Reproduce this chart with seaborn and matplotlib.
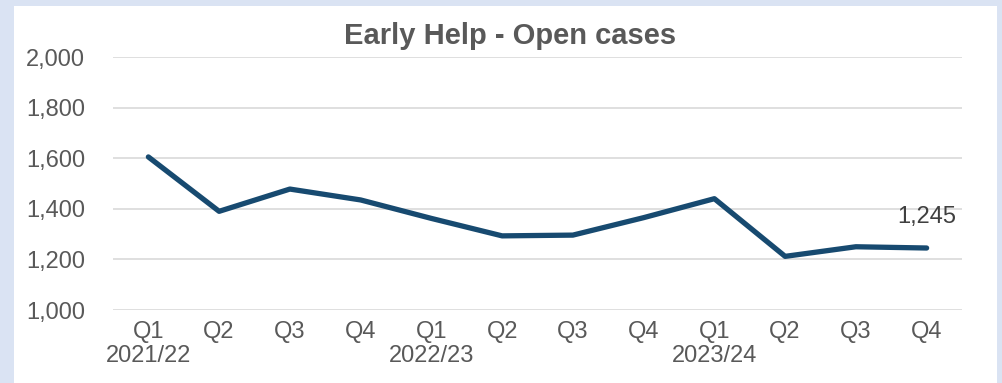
import matplotlib
matplotlib.use("Agg")
import matplotlib.pyplot as plt
import seaborn as sns
import pandas as pd
from matplotlib.patches import Rectangle
from matplotlib.ticker import FuncFormatter

quarters = ["Q1", "Q2", "Q3", "Q4", "Q1", "Q2", "Q3", "Q4", "Q1", "Q2", "Q3", "Q4"]
years = ["2021/22", "", "", "", "2022/23", "", "", "", "2023/24", "", "", ""]
open_cases = [1605, 1390, 1478, 1435, 1362, 1293, 1296, 1365, 1440, 1212, 1250, 1245]

sns.set_theme(style="white")
plt.rcParams["font.family"] = ["Liberation Sans", "DejaVu Sans"]

labels = [q if not y else f"{q}\n{y}" for q, y in zip(quarters, years)]
df = pd.DataFrame({"pos": range(len(open_cases)), "cases": open_cases})

fig = plt.figure(figsize=(10.02, 3.83), dpi=100)
fig.patch.set_facecolor("#dae3f3")
fig.patches.append(Rectangle((14 / 1002, 0), (997 - 14) / 1002, (383 - 6) / 383,
                             transform=fig.transFigure, facecolor="white",
                             edgecolor="none", zorder=-10))

ax = fig.add_axes([113 / 1002, 1 - 310 / 383, (962 - 113) / 1002, (310 - 57) / 383])
ax.set_facecolor("none")
ax.set_zorder(5)

sns.lineplot(data=df, x="pos", y="cases", ax=ax, color="#174a70", linewidth=3.8,
             solid_capstyle="round", solid_joinstyle="round", zorder=3)

ax.set_xlim(-0.5, len(open_cases) - 0.5)
ax.set_ylim(1000, 2000)
ax.set_yticks(range(1000, 2001, 200))
ax.yaxis.set_major_formatter(FuncFormatter(lambda v, p: f"{int(v):,}"))
ax.set_xticks(range(len(labels)))
ax.set_xticklabels(labels, linespacing=1.1, va="top")
ax.tick_params(axis="both", length=0, labelsize=17, colors="#595959")
ax.tick_params(axis="y", pad=20)
ax.tick_params(axis="x", pad=8)
ax.grid(axis="y", color="#d9d9d9", linewidth=1.2)
ax.set_axisbelow(True)
for s in ax.spines.values():
    s.set_visible(False)
ax.set_xlabel("")
ax.set_ylabel("")

ax.annotate(f"{open_cases[-1]:,}", (len(open_cases) - 1, open_cases[-1]),
            xytext=(0, 22), textcoords="offset points", ha="center", va="center",
            fontsize=17, color="#404040")

fig.text(510 / 1002, 1 - 36 / 383, "Early Help - Open cases", ha="center", va="center",
         fontsize=21, fontweight="bold", color="#595959", zorder=6)

fig.savefig("out.png", dpi=100)
